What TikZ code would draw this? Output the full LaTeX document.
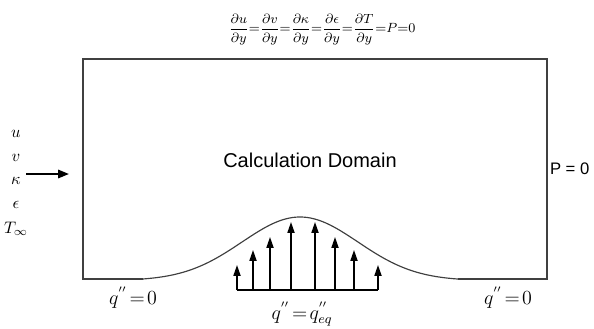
\documentclass[tikz,border=0pt]{standalone}
\usepackage{amsmath,amssymb}
\usepackage{fontspec}
\setmainfont{Liberation Serif}
\setsansfont{Liberation Sans}
\usepackage{tikz}
\usetikzlibrary{arrows.meta,positioning}

\begin{document}
\begin{tikzpicture}[
  x=0.6pt, y=-0.6pt,
  wall/.style={draw=black!75, line width=0.8pt, line join=miter},
  arr/.style={-{Triangle[length=6.5pt, width=5pt]}, line width=1.2pt},
  flux/.style={-{Triangle[length=6.5pt, width=4.2pt]}, line width=1pt},
  var/.style={minimum height=13.8pt, inner sep=0pt, font=\normalsize},
  bc/.style={font=\large, inner sep=0pt},
  node distance=0pt,
]
\useasboundingbox (0,0) rectangle (594,328);

% domain outline with the bump on the bottom wall
\draw[wall] (143,279) -- (83,279) -- (83,59) -- (547,59) -- (547,279) -- (458,279);
\draw[wall, line width=0.7pt] plot[domain=143:458, samples=120, smooth]
  (\x, {279-62*(exp(-1*((\x-300)/82)*((\x-300)/82))-0.025)/0.975});

\node[font=\sffamily\large] (dom) at (310,160) {Calculation Domain};
\node[font=\sffamily, anchor=west, inner sep=1pt] (pout) at (548,169) {P = 0};

% top wall condition
\node[font=\footnotesize, inner sep=0pt] (top) at (322,30) {$\dfrac{\partial u}{\partial y}{=}\dfrac{\partial v}{\partial y}{=}\dfrac{\partial \kappa}{\partial y}{=}\dfrac{\partial \epsilon}{\partial y}{=}\dfrac{\partial T}{\partial y}{=}P{=}0$};

% inlet variables
\node[var] (u) at (16,134) {$u$};
\node[var, below=of u] (v) {$v$};
\node[var, below=of v] (kap) {$\kappa$};
\node[var, below=of kap] (eps) {$\epsilon$};
\node[var, below=of eps] (tinf) {$T_\infty$};
\coordinate (inS) at (26,174);
\coordinate (inE) at (69,174);
\draw[arr] (inS) -- (inE);

% heat flux arrows
\draw[line width=1pt] (237,290) -- (378,290);
\foreach \x/\t in {237/265,253/250,270/237,291/222,315/222,335/237,354/250,378/265}
  \draw[flux] (\x,290) -- (\x,\t);

% wall conditions
\node[bc] (qleft)  at (133,298) {$q^{''}\!=\!0$};
\node[bc] (qright) at (508,298) {$q^{''}\!=\!0$};
\node[bc] (qmid)   at (302,314) {$q^{''}\!=\!q^{''}_{eq}$};
\end{tikzpicture}
\end{document}
